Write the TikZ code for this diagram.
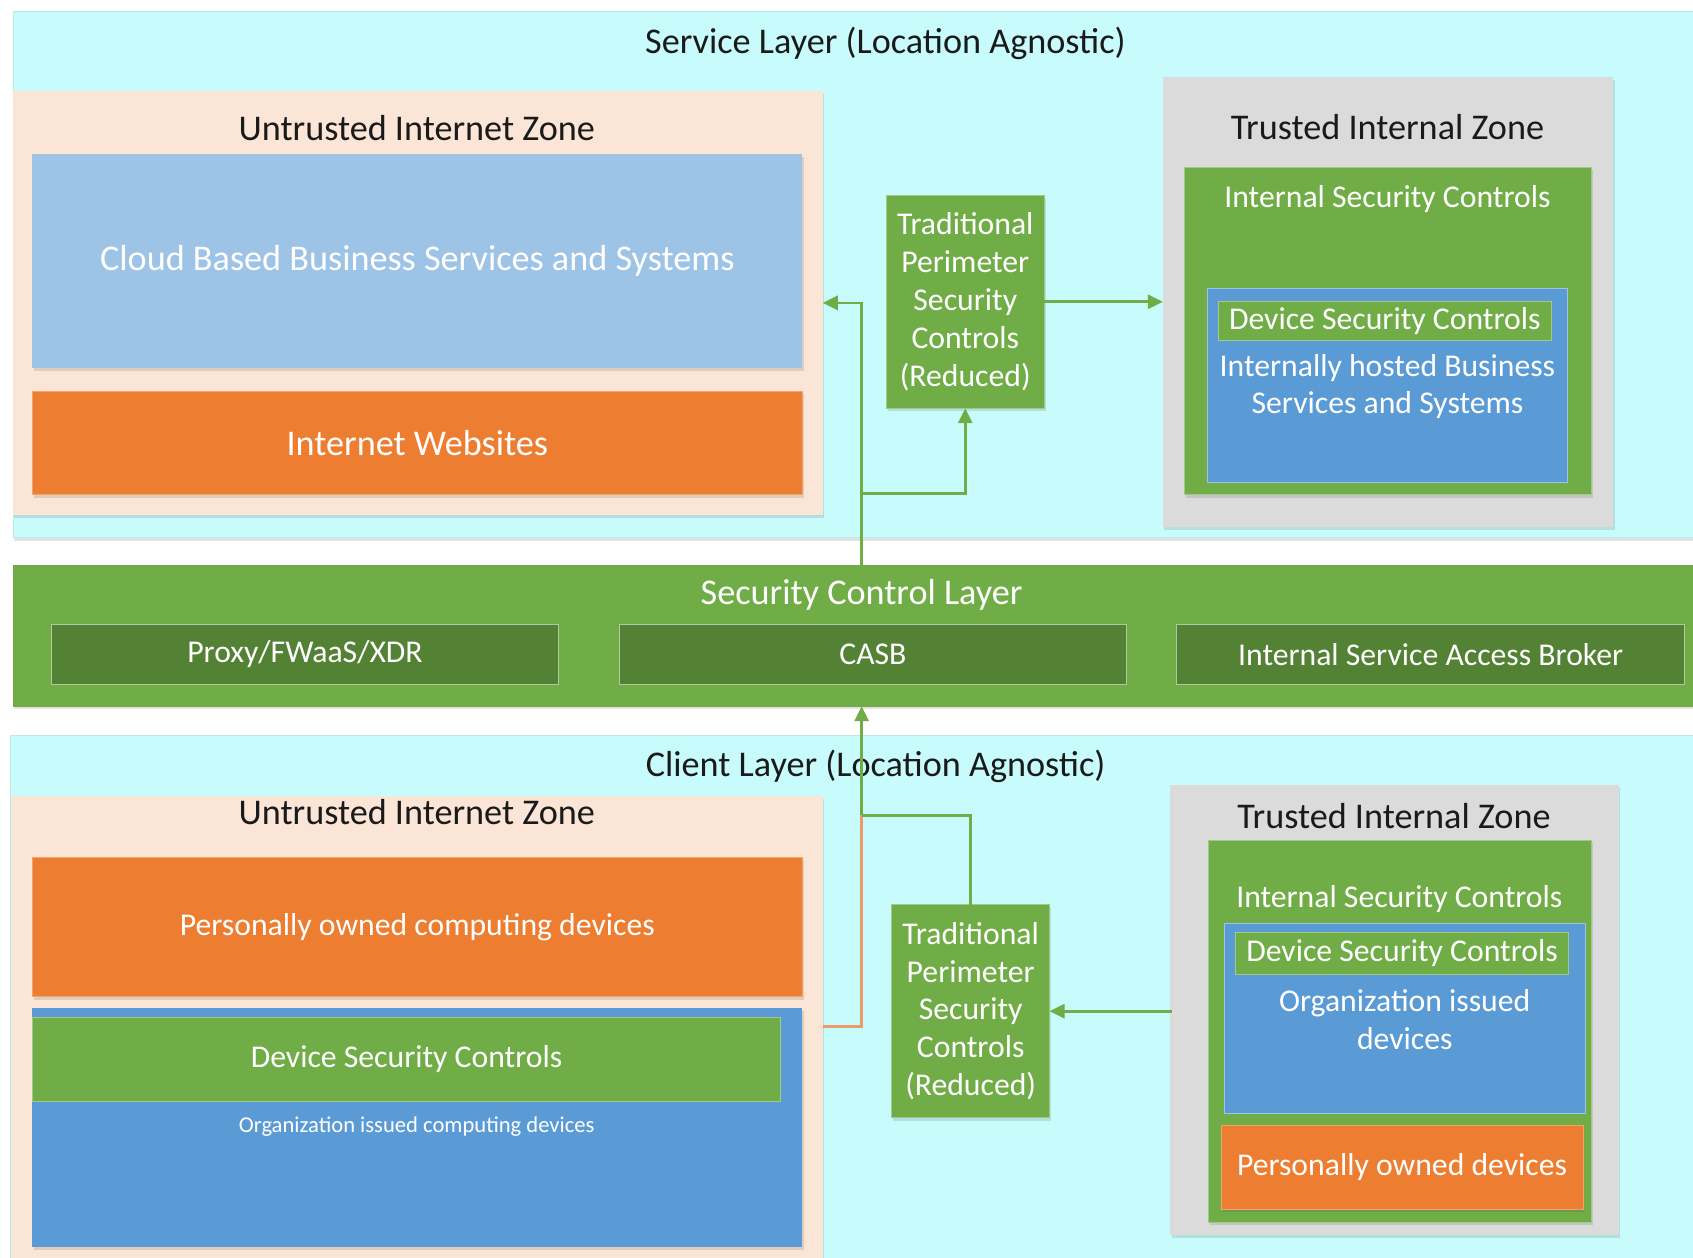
\documentclass[tikz,border=0pt]{standalone}
\usepackage{fontspec}
\setmainfont{Carlito}
\usetikzlibrary{arrows.meta,shadows}

\definecolor{layercyan}{HTML}{C8FCFC}
\definecolor{untrust}{HTML}{FBE5D6}
\definecolor{trustgrey}{HTML}{DBDBDB}
\definecolor{ctlgreen}{HTML}{70AD47}
\definecolor{darkgreen}{HTML}{548235}
\definecolor{devblue}{HTML}{5B9BD5}
\definecolor{cloudblue}{HTML}{9DC3E6}
\definecolor{webor}{HTML}{ED7D31}
\definecolor{linkor}{HTML}{EF9A6A}
\definecolor{inkdark}{HTML}{1A1A1A}

% box from top-left (#2,#3) to bottom-right (#4,#5)
\newcommand\zbox[7]{\node[#6, anchor=north west,
  minimum width={(#4-#2)*1.0797pt}, minimum height={(#5-#3)*1.0797pt}] (#1) at (#2,#3) {#7};}

\tikzset{
  every node/.style={inner sep=0pt, outer sep=0pt},
  softshadow/.style={drop shadow={shadow xshift=1.5pt, shadow yshift=-3pt, opacity=0.16, fill=black!70}},
  layerbox/.style={fill=layercyan, draw=layercyan!85!gray, line width=0.6pt, softshadow},
  ctllayer/.style={fill=ctlgreen, draw=ctlgreen!85!gray, line width=0.6pt, softshadow},
  untrustzone/.style={fill=untrust, softshadow},
  trustzone/.style={fill=trustgrey, softshadow},
  greenbox/.style={fill=ctlgreen, draw=ctlgreen!65!white, line width=0.8pt},
  darkbox/.style={fill=darkgreen, draw=darkgreen!45!white, line width=0.9pt},
  bluebox/.style={fill=devblue, draw=devblue!60!white, line width=0.8pt},
  cloudbox/.style={fill=cloudblue, softshadow},
  orangebox/.style={fill=webor, draw=webor!70!white, line width=0.6pt, softshadow},
  titletext/.style={text=inkdark, font=\fontsize{36.2}{43}\selectfont},
  bigwhite/.style={text=white, font=\fontsize{36.2}{43}\selectfont, align=center},
  midwhite/.style={text=white, font=\fontsize{31.7}{37.8}\selectfont, align=center},
  smallwhite/.style={text=white, font=\fontsize{22.6}{27}\selectfont},
  gline/.style={draw=ctlgreen, line width=2.7pt},
  oline/.style={draw=linkor, line width=2.7pt},
  garrow/.style={gline, -{Triangle[length=15pt, width=14pt]}},
}

\begin{document}
\begin{tikzpicture}[x=1.0797pt, y=-1.0797pt]
\useasboundingbox (0,0) rectangle (1568,1165);

% ---------- service layer ----------
\zbox{svc}{12}{10}{1575}{498}{layerbox}{}
\node[titletext] (svcT) at (820,40) {Service Layer (Location Agnostic)};

\zbox{uz1}{12}{84}{762}{477}{untrustzone}{}
\node[titletext] (uz1T) at (386,119) {Untrusted Internet Zone};
\zbox{cloud}{30}{143}{743}{341}{cloudbox, bigwhite}{Cloud Based Business Services and Systems}
\zbox{web}{30}{362}{743}{458}{orangebox, bigwhite}{Internet Websites}

\zbox{tp1}{821}{181}{967}{378}{greenbox, midwhite, softshadow}{Traditional\\Perimeter\\Security\\Controls\\(Reduced)}

\zbox{tz1}{1077}{71}{1494}{488}{trustzone}{}
\node[titletext] (tz1T) at (1285,118) {Trusted Internal Zone};
\zbox{isc1}{1097}{155}{1474}{458}{greenbox, softshadow}{}
\node[midwhite] (isc1T) at (1285,184) {Internal Security Controls};
\zbox{ihb}{1118}{267}{1452}{447}{bluebox}{}
\zbox{dsc1}{1128}{279}{1437}{315}{greenbox, midwhite}{Device Security Controls}
\node[midwhite] (ihbT) at (1285,358) {Internally hosted Business\\Services and Systems};

% ---------- security control layer ----------
\zbox{scl}{12}{524}{1575}{654}{ctllayer}{}
\node[bigwhite] (sclT) at (798,551) {Security Control Layer};
\zbox{proxy}{48}{578}{517}{634}{darkbox, midwhite}{Proxy/FWaaS/XDR}
\zbox{casb}{574}{578}{1043}{634}{darkbox, midwhite}{CASB}
\zbox{isab}{1090}{578}{1560}{634}{darkbox, midwhite}{Internal Service Access Broker}

% ---------- client layer ----------
\zbox{cli}{10}{681}{1575}{1172}{layerbox}{}
\node[titletext] (cliT) at (811,710) {Client Layer (Location Agnostic)};

\zbox{uz2}{10}{737}{762}{1172}{untrustzone}{}
\node[titletext] (uz2T) at (386,752) {Untrusted Internet Zone};
\zbox{pocd}{30}{794}{743}{923}{orangebox, midwhite}{Personally owned computing devices}
\zbox{oicd}{30}{934}{743}{1155}{fill=devblue, softshadow}{}
\zbox{dsc2}{30}{942}{723}{1020}{greenbox, midwhite}{Device Security Controls}
\node[smallwhite] (oicdT) at (386,1043) {Organization issued computing devices};

\zbox{tp2}{826}{838}{972}{1035}{greenbox, midwhite, softshadow}{Traditional\\Perimeter\\Security\\Controls\\(Reduced)}

\zbox{tz2}{1084}{727}{1499}{1144}{trustzone}{}
\node[titletext] (tz2T) at (1291,756) {Trusted Internal Zone};
\zbox{isc2}{1119}{778}{1474}{1132}{greenbox, softshadow}{}
\node[midwhite] (isc2T) at (1296,833) {Internal Security Controls};
\zbox{oid}{1134}{855}{1468}{1031}{bluebox}{}
\zbox{dsc3}{1144}{864}{1453}{902}{greenbox, midwhite}{Device Security Controls}
\node[midwhite] (oidT) at (1301,944) {Organization issued\\devices};
\zbox{pod}{1131}{1042}{1466}{1120}{orangebox, midwhite}{Personally owned devices}

% ---------- connectors ----------
\coordinate (upJ) at (798,457);   % branch toward the upper perimeter box
\coordinate (upTop) at (798,280.5);
\coordinate (loJ) at (798,755);   % junction of client-side paths
\coordinate (loO) at (798,951);

\draw[garrow] (scl.north -| upJ) -- (upTop) -- (uz1.east);
\draw[garrow] (upJ) -| (tp1.south);
\draw[garrow] (tp1.east) -- (tz1.west |- tp1.east);

\draw[garrow] (tz2.west) -- (tp2.east -| tz2.west) -- (tp2.east);
\draw[oline] (uz2.east |- loO) -- (loO) -- (loJ);
\draw[gline] (tp2.north) |- (loJ);
\draw[garrow] (loJ) -- (scl.south -| loJ);
\end{tikzpicture}
\end{document}
